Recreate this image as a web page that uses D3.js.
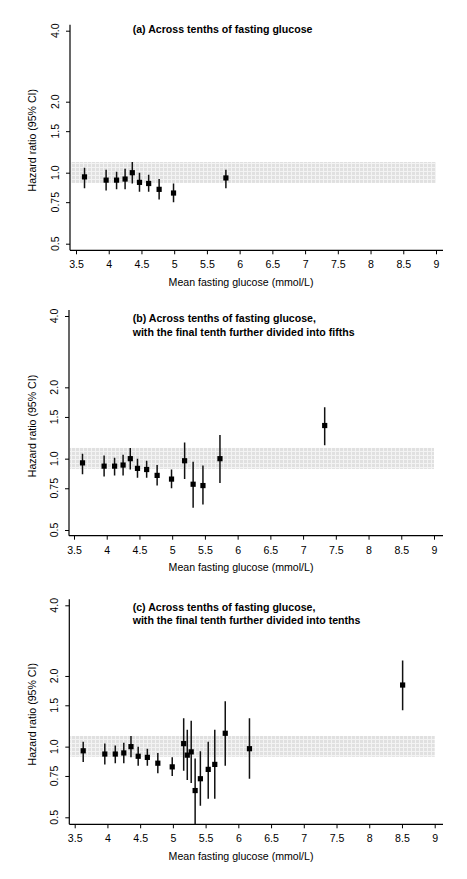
<!DOCTYPE html>
<html><head><meta charset="utf-8">
<script src="https://cdn.jsdelivr.net/npm/d3@7"></script>
<style>
html,body{margin:0;padding:0;background:#fff;}
svg{display:block;font-family:"Liberation Sans",Arial,sans-serif;}
</style></head>
<body><svg id="c" width="467" height="879"></svg>
<script>
// ---- data ----
const tenthsX  = [3.63, 3.96, 4.12, 4.25, 4.36, 4.47, 4.61, 4.77, 4.99];
const tenthsHR = [0.96, 0.93, 0.93, 0.94, 1.00, 0.91, 0.90, 0.85, 0.82];
const tenthsLo = [0.86, 0.84, 0.85, 0.85, 0.90, 0.83, 0.83, 0.77, 0.75];
const tenthsHi = [1.05, 1.03, 1.01, 1.04, 1.11, 1.00, 0.98, 0.94, 0.90];

const aLastX  = [5.79];
const aLastHR = [0.95];
const aLastLo = [0.86];
const aLastHi = [1.03];

const bFifthsX  = [5.19, 5.32, 5.47, 5.73, 7.33];
const bFifthsHR = [0.98, 0.78, 0.77, 1.00, 1.38];
const bFifthsLo = [0.82, 0.62, 0.64, 0.79, 1.14];
const bFifthsHi = [1.17, 0.97, 0.935, 1.26, 1.65];

const cTenthsX  = [5.165, 5.22, 5.28, 5.34, 5.42, 5.54, 5.64, 5.80, 6.17, 8.51];
const cTenthsHR = [1.03, 0.92, 0.95, 0.65, 0.73, 0.80, 0.84, 1.14, 0.98, 1.83];
const cTenthsLo = [0.79, 0.72, 0.70, 0.46, 0.56, 0.60, 0.60, 0.83, 0.73, 1.43];
const cTenthsHi = [1.32, 1.18, 1.29, 0.89, 0.955, 1.05, 1.18, 1.56, 1.32, 2.33];

const bandRange = [0.905, 1.11];
const yTicks = [0.5, 0.75, 1.0, 1.5, 2.0, 4.0];
const yTickLabels = ["0.5", "0.75", "1.0", "1.5", "2.0", "4.0"];
const xTicks = [3.5, 4, 4.5, 5, 5.5, 6, 6.5, 7, 7.5, 8, 8.5, 9];
const xTickLabels = ["3.5","4","4.5","5","5.5","6","6.5","7","7.5","8","8.5","9"];
const xDomain = [3.5, 9];
const yDomain = [0.5, 4.0];
const xTitle = "Mean fasting glucose (mmol/L)";
const yTitle = "Hazard ratio (95% CI)";

const panels = [
  { title: ["(a) Across tenths of fasting glucose"],
    x: tenthsX.concat(aLastX), hr: tenthsHR.concat(aLastHR), lo: tenthsLo.concat(aLastLo), hi: tenthsHi.concat(aLastHi),
    L: {yTop: 30.7, yBot: 243.7, axisY: 250.3, axisX: 70, x0: 76, x1: 436, titleY: 32.7} },
  { title: ["(b) Across tenths of fasting glucose,", "with the final tenth further divided into fifths"],
    x: tenthsX.concat(bFifthsX), hr: tenthsHR.concat(bFifthsHR), lo: tenthsLo.concat(bFifthsLo), hi: tenthsHi.concat(bFifthsHi),
    L: {yTop: 316, yBot: 530, axisY: 535.7, axisX: 69, x0: 74, x1: 434, titleY: 322.3} },
  { title: ["(c) Across tenths of fasting glucose,", "with the final tenth further divided into tenths"],
    x: tenthsX.concat(cTenthsX), hr: tenthsHR.concat(cTenthsHR), lo: tenthsLo.concat(cTenthsLo), hi: tenthsHi.concat(cTenthsHi),
    L: {yTop: 605.3, yBot: 817.3, axisY: 824.3, axisX: 69.3, x0: 74.7, x1: 434.7, titleY: 610.7} }
];

const svg = d3.select("#c");
const defs = svg.append("defs");
const pat = defs.append("pattern").attr("id","dots").attr("patternUnits","userSpaceOnUse")
  .attr("width",4).attr("height",4);
pat.append("rect").attr("width",4).attr("height",4).attr("fill","#f3f3f3");
pat.append("rect").attr("width",3).attr("height",3).attr("fill","#e0e0e0");

const FS = 10.6;
const FF = '"Liberation Sans",Arial,sans-serif';

panels.forEach((p, i) => {
  const L = p.L;
  const x = d3.scaleLinear().domain(xDomain).range([L.x0, L.x1]);
  const y = d3.scaleLog().domain(yDomain).range([L.yBot, L.yTop]);
  const g = svg.append("g");

  const clipId = "clip" + i;
  defs.append("clipPath").attr("id", clipId).append("rect")
    .attr("x", L.axisX).attr("y", L.yTop - 8).attr("width", 380).attr("height", L.axisY - L.yTop + 8);

  // reference band
  g.append("rect")
    .attr("x", L.axisX + 1).attr("width", x(9) - L.axisX - 1)
    .attr("y", y(bandRange[1])).attr("height", y(bandRange[0]) - y(bandRange[1]))
    .attr("fill", "url(#dots)");

  // y axis (ticks from d3 axis, labels rotated)
  const ya = d3.axisLeft(y).tickValues(yTicks).tickFormat("").tickSize(4).tickSizeOuter(0);
  const yg = g.append("g").attr("transform", `translate(${L.axisX},0)`).call(ya);
  yg.select(".domain").remove();
  yg.selectAll(".tick line").attr("stroke", "#000").attr("stroke-width", 1);
  g.selectAll("text.ylab").data(yTicks).enter().append("text").attr("class", "ylab")
    .attr("transform", d => `translate(${L.axisX - 11},${y(d)}) rotate(-90)`)
    .attr("text-anchor", "middle").attr("font-size", FS).attr("font-family", FF)
    .text((d, k) => yTickLabels[k]);
  g.append("line").attr("x1", L.axisX).attr("x2", L.axisX)
    .attr("y1", L.yTop - 6).attr("y2", L.axisY).attr("stroke", "#000").attr("stroke-width", 1.2);

  // x axis
  const xa = d3.axisBottom(x).tickValues(xTicks).tickFormat((d, k) => xTickLabels[k]).tickSize(4).tickSizeOuter(0);
  const xg = g.append("g").attr("transform", `translate(0,${L.axisY})`).call(xa);
  xg.select(".domain").remove();
  xg.selectAll(".tick line").attr("stroke", "#000").attr("stroke-width", 1);
  xg.selectAll(".tick text").attr("y", 18).attr("dy", 0)
    .attr("font-size", FS).attr("fill", "#000").attr("font-family", FF);
  g.append("line").attr("x1", L.axisX).attr("x2", 443)
    .attr("y1", L.axisY).attr("y2", L.axisY).attr("stroke", "#000").attr("stroke-width", 1.2);

  // axis titles
  g.append("text").attr("x", 241).attr("y", L.axisY + 35.5)
    .attr("text-anchor", "middle").attr("font-size", FS).text(xTitle);
  const midY = (L.yTop + L.yBot) / 2 + 3;
  g.append("text").attr("transform", `translate(36,${midY}) rotate(-90)`)
    .attr("text-anchor", "middle").attr("font-size", FS).text(yTitle);

  // panel title
  p.title.forEach((t, k) => {
    g.append("text").attr("x", 132.7).attr("y", L.titleY + k * 13.3)
      .attr("font-size", FS).attr("font-weight", "bold").text(t);
  });

  // error bars + markers
  const data = p.x.map((xv, k) => ({x: xv, hr: p.hr[k], lo: p.lo[k], hi: p.hi[k]}));
  const pg = g.append("g").attr("clip-path", `url(#${clipId})`);
  pg.selectAll("line.ci").data(data).enter().append("line").attr("class", "ci")
    .attr("x1", d => x(d.x)).attr("x2", d => x(d.x))
    .attr("y1", d => y(d.hi)).attr("y2", d => y(d.lo))
    .attr("stroke", "#111").attr("stroke-width", 1.5);
  pg.selectAll("rect.pt").data(data).enter().append("rect").attr("class", "pt")
    .attr("x", d => x(d.x) - 2.6).attr("y", d => y(d.hr) - 2.6)
    .attr("width", 5.2).attr("height", 5.2).attr("fill", "#000");
});
</script>
</body></html>
